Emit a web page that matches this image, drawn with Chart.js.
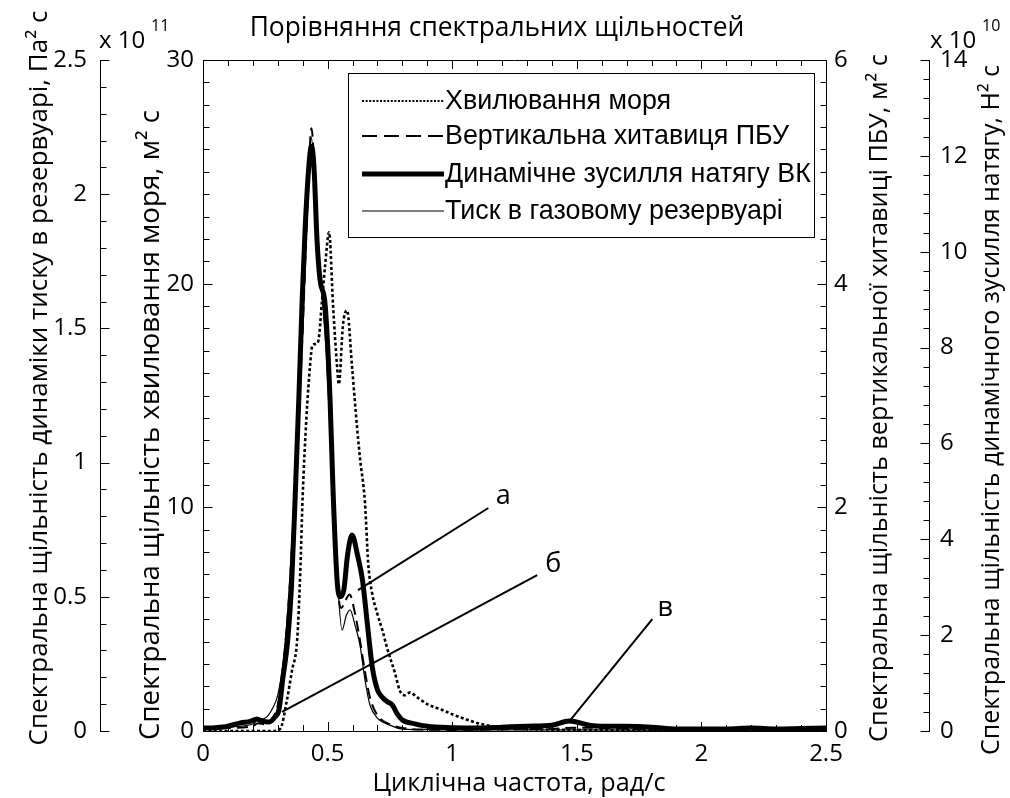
<!DOCTYPE html>
<html><head><meta charset="utf-8">
<script src="https://cdn.jsdelivr.net/npm/chart.js@4.4.1/dist/chart.umd.min.js"></script>
<style>html,body{margin:0;padding:0;background:#fff}#wrap{width:1010px;height:798px;position:relative}</style>
</head><body><div id="wrap"><canvas id="c"></canvas></div>
<script>
// ---------- data ----------
const waveFreq = [0, 0.1, 0.2, 0.28, 0.31, 0.337, 0.357, 0.378, 0.39, 0.40, 0.415, 0.43, 0.438, 0.45, 0.462, 0.478, 0.49, 0.506, 0.522, 0.538, 0.545, 0.562, 0.578, 0.598, 0.618, 0.63, 0.65, 0.663, 0.678, 0.698, 0.72, 0.739, 0.77, 0.79, 0.81, 0.83, 0.86, 0.9, 0.96, 1.0, 1.06, 1.12, 1.18, 1.3, 1.5, 1.8, 2.1, 2.5];
const waveVals = [0, 0, 0, 0, 0.1, 1.4, 2.7, 4.1, 7.0, 10.5, 14.0, 16.4, 17.2, 17.3, 17.4, 19.3, 20.8, 22.3, 19.0, 16.3, 15.5, 18.2, 18.8, 16.3, 13.6, 12.2, 10.2, 7.5, 6.2, 5.3, 4.5, 3.7, 2.6, 1.8, 1.6, 1.72, 1.5, 1.2, 0.94, 0.75, 0.5, 0.3, 0.18, 0.09, 0.05, 0.02, 0.01, 0.01];

const heaveFreq = [0, 0.1, 0.2, 0.22, 0.25, 0.28, 0.30, 0.32, 0.34, 0.36, 0.38, 0.40, 0.42, 0.435, 0.45, 0.465, 0.48, 0.495, 0.51, 0.525, 0.54, 0.555, 0.57, 0.588, 0.61, 0.63, 0.65, 0.67, 0.70, 0.75, 0.80, 0.9, 1.0, 1.2, 1.4, 1.5, 1.7, 2.0, 2.5];
const heaveVals = [0.018, 0.027, 0.045, 0.07, 0.06, 0.12, 0.23, 0.545, 1.04, 1.75, 2.6, 3.59, 4.75, 5.39, 4.9, 4.2, 3.85, 3.5, 2.9, 2.1, 1.3, 1.1, 1.16, 1.22, 1.05, 0.81, 0.53, 0.3, 0.14, 0.06, 0.027, 0.012, 0.01, 0.015, 0.02, 0.03, 0.02, 0.01, 0.01];

const tensionFreq = [0, 0.05, 0.1, 0.15, 0.19, 0.216, 0.24, 0.265, 0.29, 0.305, 0.32, 0.34, 0.355, 0.37, 0.385, 0.398, 0.41, 0.425, 0.435, 0.445, 0.458, 0.47, 0.49, 0.51, 0.522, 0.538, 0.55, 0.565, 0.58, 0.598, 0.62, 0.64, 0.66, 0.68, 0.70, 0.72, 0.74, 0.76, 0.78, 0.80, 0.85, 0.9, 1.0, 1.1, 1.2, 1.3, 1.4, 1.47, 1.55, 1.6, 1.7, 1.8, 1.9, 2.0, 2.1, 2.2, 2.3, 2.4, 2.5];
const tensionVals = [0.06, 0.07, 0.1, 0.17, 0.2, 0.25, 0.2, 0.19, 0.3, 0.45, 1.08, 1.9, 3.0, 4.9, 7.0, 9.0, 10.5, 11.8, 12.2, 11.8, 10.2, 9.4, 8.9, 6.9, 5.0, 3.15, 2.8, 2.94, 3.67, 4.09, 3.67, 3.15, 2.21, 1.31, 0.86, 0.7, 0.61, 0.54, 0.35, 0.23, 0.15, 0.1, 0.07, 0.06, 0.08, 0.1, 0.12, 0.21, 0.12, 0.1, 0.1, 0.08, 0.04, 0.04, 0.04, 0.06, 0.04, 0.05, 0.06];

const pressFreq = [0, 0.1, 0.2, 0.22, 0.25, 0.28, 0.30, 0.32, 0.34, 0.36, 0.38, 0.40, 0.42, 0.435, 0.45, 0.465, 0.48, 0.495, 0.51, 0.525, 0.54, 0.558, 0.575, 0.59, 0.61, 0.63, 0.65, 0.67, 0.70, 0.75, 0.80, 0.9, 1.0, 1.5, 2.0, 2.5];
const pressVals = [0.011, 0.015, 0.026, 0.041, 0.048, 0.086, 0.134, 0.246, 0.45, 0.749, 1.084, 1.494, 1.96, 2.21, 2.02, 1.78, 1.6, 1.4, 1.12, 0.85, 0.56, 0.376, 0.43, 0.451, 0.395, 0.32, 0.19, 0.097, 0.048, 0.022, 0.007, 0.005, 0.004, 0.004, 0.003, 0.003];

const seriesNames = ['Хвилювання моря', 'Вертикальна хитавиця ПБУ', 'Динамічне зусилля натягу ВК', 'Тиск в газовому резервуарі'];

const xTickLabels = ['0', '0.5', '1', '1.5', '2', '2.5'];
const pressTickLabels = ['0', '0.5', '1', '1.5', '2', '2.5'];
const waveTickLabels = ['0', '10', '20', '30'];
const heaveTickLabels = ['0', '2', '4', '6'];
const tensionTickLabels = ['0', '2', '4', '6', '8', '10', '12', '14'];

const titleText = 'Порівняння спектральних щільностей';
const xTitle = 'Циклічна частота, рад/с';
const pressTitle = 'Спектральна щільність динаміки тиску в резервуарі, Па² с';
const waveTitle = 'Спектральна щільність хвилювання моря, м² с';
const heaveTitle = 'Спектральна щільність вертикальної хитавиці ПБУ, м² с';
const tensionTitle = 'Спектральна щільність динамічного зусилля натягу, Н² с';

// annotation callouts in data coords (x, wave-axis y)
const calloutLabels = ['а', 'б', 'в'];
const calloutFrom = [[0.622, 6.3], [0.317, 0.85], [1.474, 0.49]];
const calloutTo = [[1.145, 9.97], [1.341, 6.97], [1.803, 5.0]];
const calloutText = [[1.205, 10.5], [1.406, 7.45], [1.855, 5.5]];

// ---------- build ----------
const pts = (xs, ys) => xs.map((v, i) => ({x: v, y: ys[i]}));
const TF = '"Open Sans", "Noto Sans", sans-serif';
const LF = '"Liberation Sans", Arial, sans-serif';

function fitSize(ctx, text, family, target) {
  ctx.font = '100px ' + family;
  return 100 * target / ctx.measureText(text).width;
}

// style per series (index matches seriesNames)
const styleOf = [
  {borderWidth: 2.6, borderDash: [3, 2.4]},
  {borderWidth: 2, borderDash: [11, 6]},
  {borderWidth: 5, borderDash: []},
  {borderWidth: 1.2, borderDash: []}
];
const legendDash = [[2, 1.6], [15, 7], [], []];
const legendWidth = [2, 2, 5, 1.2];

const customPlugin = {
  id: 'custom',
  afterDraw(chart) {
    const ctx = chart.ctx;
    const {x, yP, yW, yH, yT} = chart.scales;
    const ca = chart.chartArea;
    ctx.save();
    ctx.strokeStyle = '#000';
    ctx.fillStyle = '#000';
    ctx.lineWidth = 1;
    ctx.setLineDash([]);
    const line = (x1, y1, x2, y2) => { ctx.beginPath(); ctx.moveTo(x1, y1); ctx.lineTo(x2, y2); ctx.stroke(); };
    // top border
    line(ca.left, Math.round(ca.top) + 0.5, ca.right, Math.round(ca.top) + 0.5);
    // x ticks (bottom & top, inward)
    for (let i = 0; i <= 25; i++) {
      const px = Math.round(x.getPixelForValue(i / 10)) + 0.5;
      const len = i % 5 === 0 ? 9 : 6;
      line(px, ca.bottom, px, ca.bottom - len);
      line(px, ca.top, px, ca.top + len);
    }
    // pressure axis ticks (rightwards from its line)
    const pxP = Math.round(yP.right) + 0.5;
    for (let i = 0; i <= 25; i++) {
      const py = Math.round(yP.getPixelForValue(i / 10)) + 0.5;
      line(pxP, py, pxP + (i % 5 === 0 ? 9 : 6), py);
    }
    // wave axis ticks
    const pxW = Math.round(yW.right) + 0.5;
    for (let i = 0; i <= 30; i++) {
      const py = Math.round(yW.getPixelForValue(i)) + 0.5;
      line(pxW, py, pxW + (i % 10 === 0 ? 9 : 6), py);
    }
    // heave axis ticks (leftwards)
    const pxH = Math.round(yH.left) + 0.5;
    for (let i = 0; i <= 30; i++) {
      const py = Math.round(yH.getPixelForValue(i / 5)) + 0.5;
      line(pxH, py, pxH - (i % 10 === 0 ? 9 : 6), py);
    }
    // tension axis ticks (leftwards)
    const pxT = Math.round(yT.left) + 0.5;
    for (let i = 0; i <= 35; i++) {
      const py = Math.round(yT.getPixelForValue(i * 0.4)) + 0.5;
      line(pxT, py, pxT - (i % 5 === 0 ? 9 : 6), py);
    }

    // callouts
    ctx.lineWidth = 2;
    for (let i = 0; i < calloutLabels.length; i++) {
      line(x.getPixelForValue(calloutFrom[i][0]), yW.getPixelForValue(calloutFrom[i][1]),
           x.getPixelForValue(calloutTo[i][0]), yW.getPixelForValue(calloutTo[i][1]));
    }
    ctx.font = '27px ' + TF;
    ctx.textAlign = 'center';
    ctx.textBaseline = 'middle';
    for (let i = 0; i < calloutLabels.length; i++) {
      ctx.fillText(calloutLabels[i], x.getPixelForValue(calloutText[i][0]), yW.getPixelForValue(calloutText[i][1]));
    }

    // legend
    ctx.lineWidth = 1;
    ctx.strokeRect(348.5, 73.5, 466, 164);
    const rows = [101, 136, 174, 211];
    const lsz = fitSize(ctx, seriesNames[2], LF, 366);
    ctx.font = lsz.toFixed(2) + 'px ' + LF;
    ctx.textAlign = 'left';
    ctx.textBaseline = 'middle';
    for (let i = 0; i < 4; i++) {
      ctx.lineWidth = legendWidth[i];
      ctx.setLineDash(legendDash[i]);
      ctx.lineCap = 'butt';
      line(362, rows[i], 444, rows[i]);
      ctx.setLineDash([]);
      ctx.fillText(seriesNames[i], 445, rows[i] + 1);
    }

    // chart title
    ctx.textAlign = 'center';
    ctx.textBaseline = 'middle';
    ctx.font = fitSize(ctx, titleText, TF, 495).toFixed(2) + 'px ' + TF;
    ctx.fillText(titleText, 497, 28);
    // x title
    ctx.font = fitSize(ctx, xTitle, TF, 293).toFixed(2) + 'px ' + TF;
    ctx.fillText(xTitle, 519, 784);

    // rotated axis titles
    const vt = (text, cx, cy, len) => {
      ctx.save();
      ctx.translate(cx, cy);
      ctx.rotate(-Math.PI / 2);
      ctx.font = fitSize(ctx, text, TF, len).toFixed(2) + 'px ' + TF;
      ctx.textAlign = 'center';
      ctx.textBaseline = 'middle';
      ctx.fillText(text, 0, 0);
      ctx.restore();
    };
    vt(pressTitle, 40, 378, 735);
    vt(waveTitle, 151, 425, 630);
    vt(heaveTitle, 880, 398, 688);
    vt(tensionTitle, 992, 410, 690);

    // exponent markers
    ctx.textAlign = 'left';
    ctx.textBaseline = 'alphabetic';
    ctx.font = '24px ' + TF;
    ctx.fillText('x 10', 99, 48);
    ctx.fillText('x 10', 930, 48);
    ctx.font = '16px ' + TF;
    ctx.fillText('11', 151, 31);
    ctx.fillText('10', 982, 31);
    ctx.restore();
  }
};

const tickFont = {family: TF, size: 24};
const yCommon = (min, max, step, labels, pad) => ({
  type: 'linear', min, max,
  ticks: {stepSize: step, color: '#000', font: tickFont, padding: pad, autoSkip: false,
          callback: (v, i) => labels[i]},
  grid: {display: false, drawTicks: false},
  border: {display: true, color: '#000', width: 1}
});

new Chart(document.getElementById('c'), {
  type: 'line',
  data: {
    datasets: [
      {label: seriesNames[0], data: pts(waveFreq, waveVals), yAxisID: 'yW', ...styleOf[0]},
      {label: seriesNames[1], data: pts(heaveFreq, heaveVals), yAxisID: 'yH', ...styleOf[1]},
      {label: seriesNames[3], data: pts(pressFreq, pressVals), yAxisID: 'yP', ...styleOf[3]},
      {label: seriesNames[2], data: pts(tensionFreq, tensionVals), yAxisID: 'yT', ...styleOf[2]}
    ].map(d => ({...d, borderColor: '#000', backgroundColor: '#000', fill: false, pointRadius: 0,
                 cubicInterpolationMode: 'monotone', borderJoinStyle: 'round'}))
  },
  options: {
    responsive: true, maintainAspectRatio: false, animation: false, devicePixelRatio: 1,
    layout: {padding: {top: 60, left: 0, right: 0, bottom: 0}},
    plugins: {legend: {display: false}, title: {display: false}, tooltip: {enabled: false}},
    scales: {
      x: {type: 'linear', position: 'bottom', min: 0, max: 2.5,
          ticks: {stepSize: 0.5, color: '#000', font: tickFont, padding: 9, maxRotation: 0, autoSkip: false,
                  callback: (v, i) => xTickLabels[i]},
          grid: {display: false, drawTicks: false},
          border: {display: true, color: '#000', width: 1},
          afterFit: s => { s.height = 67; }},
      yW: {...yCommon(0, 30, 10, waveTickLabels, 9), position: 'left', weight: 0, afterFit: s => { s.width = 103; }},
      yP: {...yCommon(0, 2.5, 0.5, pressTickLabels, 13), position: 'left', weight: 1, afterFit: s => { s.width = 100; }},
      yH: {...yCommon(0, 6, 2, heaveTickLabels, 8), position: 'right', weight: 0, afterFit: s => { s.width = 103; }},
      yT: {...yCommon(0, 14, 2, tensionTickLabels, 11), position: 'right', weight: 1, afterFit: s => { s.width = 81; }}
    }
  },
  plugins: [customPlugin]
});
</script>
</body></html>
